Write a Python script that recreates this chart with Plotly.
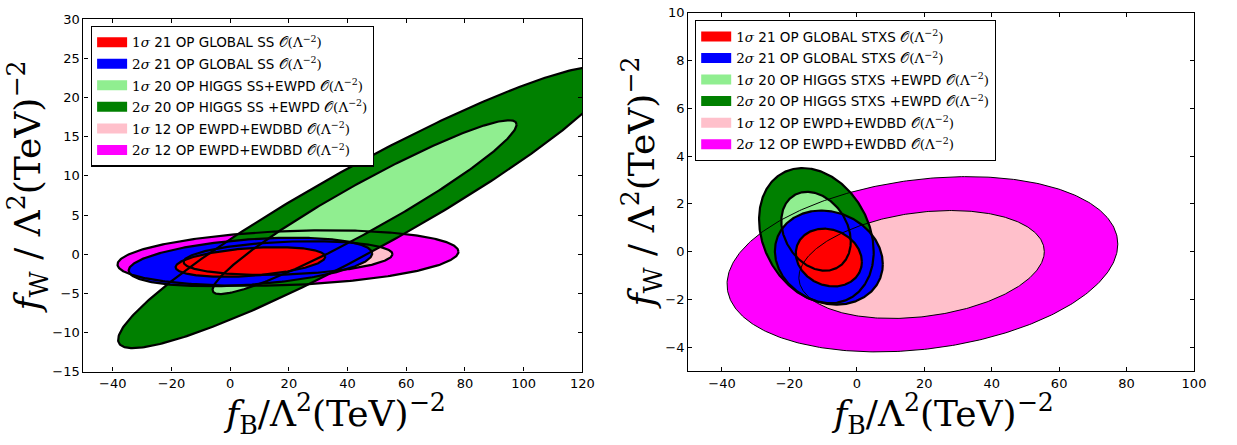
import numpy as np
import plotly.graph_objects as go

W, H = 1237, 445

# ---------------- data: left panel (signal strengths, SS) ----------------
ss_labels = [
    "1σ 21 OP GLOBAL SS",
    "2σ 21 OP GLOBAL SS",
    "1σ 20 OP HIGGS SS+EWPD",
    "2σ 20 OP HIGGS SS +EWPD",
    "1σ 12 OP EWPD+EWDBD",
    "2σ 12 OP EWPD+EWDBD",
]
ss_fB_center = [6.9, 6.9, 45.8, 46.0, 19.7, 19.7]
ss_fW_center = [-1.0, -1.0, 6.0, 6.0, -0.5, -0.5]
ss_fB_halfwidth = [25.5, 41.5, 51.8, 84.2, 35.6, 58.1]
ss_fW_halfwidth = [1.9, 3.1, 11.1, 18.0, 2.15, 3.55]
ss_corr = [0.35, 0.35, 0.95, 0.94, 0.23, 0.23]

# ---------------- data: right panel (STXS) ----------------
stxs_labels = [
    "1σ 21 OP GLOBAL STXS",
    "2σ 21 OP GLOBAL STXS",
    "1σ 20 OP HIGGS STXS +EWPD",
    "2σ 20 OP HIGGS STXS +EWPD",
    "1σ 12 OP EWPD+EWDBD",
    "2σ 12 OP EWPD+EWDBD",
]
stxs_fB_center = [-8.3, -8.3, -12.1, -12.0, 19.2, 19.45]
stxs_fW_center = [-0.25, -0.25, 0.85, 0.67, -0.54, -0.53]
stxs_fB_halfwidth = [9.8, 16.0, 10.3, 17.0, 36.4, 57.95]
stxs_fW_halfwidth = [1.21, 1.97, 1.65, 2.83, 2.26, 3.67]
stxs_corr = [-0.15, -0.14, -0.26, -0.24, 0.24, 0.23]

# ticks
left_xticks = [-40, -20, 0, 20, 40, 60, 80, 100, 120]
left_yticks = [-15, -10, -5, 0, 5, 10, 15, 20, 25, 30]
right_xticks = [-40, -20, 0, 20, 40, 60, 80, 100]
right_yticks = [-4, -2, 0, 2, 4, 6, 8, 10]

# styles
fill_colors = ["#ff0000", "#0000ff", "#90ee90", "#008000", "#ffc0cb", "#ff00ff"]
draw_order = [5, 4, 3, 2, 1, 0]


def ellipse(cx, cy, sx, sy, rho, n=400):
    t = np.linspace(0, 2 * np.pi, n)
    phi = np.arccos(rho)
    return cx + sx * np.cos(t), cy + sy * np.cos(t - phi)


def legend_text(label):
    sig, rest = label.split(" ", 1)
    return ("<span style=\"font-family:'DejaVu Serif'\">" + sig[0] + "<i>σ</i></span> "
            + rest + " <span style=\"font-family:'DejaVu Serif'\">𝒪(Λ<sup>−2</sup>)</span>")


fig = go.Figure()


def add_panel(labels, cxs, cys, sxs, sys_, rhos, xa, ya, legend_name, line_widths):
    curves = [ellipse(cxs[i], cys[i], sxs[i], sys_[i], rhos[i]) for i in range(len(labels))]
    # filled regions
    for i in draw_order:
        x, y = curves[i]
        fig.add_trace(go.Scatter(
            x=x, y=y, mode="lines", fill="toself", fillcolor=fill_colors[i],
            line=dict(width=0, color=fill_colors[i]), showlegend=False,
            xaxis=xa, yaxis=ya, hoverinfo="skip"))
    # black contour lines on top of all fills
    for i in draw_order:
        x, y = curves[i]
        fig.add_trace(go.Scatter(
            x=x, y=y, mode="lines", line=dict(width=line_widths[i], color="black"),
            showlegend=False, xaxis=xa, yaxis=ya, hoverinfo="skip"))
    # legend entries (rectangular colour swatches)
    for i in range(len(labels)):
        fig.add_trace(go.Scatter(
            x=[None], y=[None], mode="lines", line=dict(width=10, color=fill_colors[i]),
            name=legend_text(labels[i]), legendrank=i, legendgroup=legend_name + str(i),
            legend=legend_name, xaxis=xa, yaxis=ya, hoverinfo="skip"))


add_panel(ss_labels, ss_fB_center, ss_fW_center, ss_fB_halfwidth, ss_fW_halfwidth, ss_corr,
          "x", "y", "legend", [2.2] * 6)
add_panel(stxs_labels, stxs_fB_center, stxs_fW_center, stxs_fB_halfwidth, stxs_fW_halfwidth,
          stxs_corr, "x2", "y2", "legend2", [2.2, 2.2, 2.2, 2.2, 1.0, 1.0])

axis_common = dict(showgrid=False, zeroline=False, showline=True, linecolor="black", linewidth=1.3,
                   mirror="ticks", ticks="inside", ticklen=4, tickwidth=1, tickcolor="black",
                   tickfont=dict(family="DejaVu Sans", size=13, color="black"))

legend_common = dict(xanchor="left", yanchor="top", bgcolor="white", bordercolor="black",
                     borderwidth=1.3, traceorder="grouped", tracegroupgap=1,
                     font=dict(family="DejaVu Sans", size=13.5, color="black"))

fig.update_layout(
    width=W, height=H, margin=dict(l=0, r=0, t=0, b=0),
    paper_bgcolor="white", plot_bgcolor="white",
    xaxis=dict(domain=[84.3 / W, 588 / W], range=[-50, 120], tickvals=left_xticks, anchor="y", **axis_common),
    yaxis=dict(domain=[1 - 377.3 / H, 1 - 12.7 / H], range=[-15, 30], tickvals=left_yticks, anchor="x", **axis_common),
    xaxis2=dict(domain=[695 / W, 1205.7 / W], range=[-50, 100], tickvals=right_xticks, anchor="y2", **axis_common),
    yaxis2=dict(domain=[1 - 376.7 / H, 1 - 6 / H], range=[-5, 10], tickvals=right_yticks, anchor="x2", **axis_common),
    legend=dict(x=91.7 / W, y=1 - 19.3 / H, **legend_common),
    legend2=dict(x=701.7 / W, y=1 - 13.3 / H, **legend_common),
    showlegend=True,
)

title_font = dict(family="DejaVu Serif", size=36, color="black")
xtitle = "<i>f</i><sub>B</sub>/Λ<sup>2</sup>(TeV)<sup>−2</sup>"
ytitle = "<i>f</i><sub>W</sub> / Λ<sup>2</sup>(TeV)<sup>−2</sup>"
for xc, yc, txt, ang in [
    (338 / W, 1 - 421 / H, xtitle, 0),
    (952 / W, 1 - 421 / H, xtitle, 0),
    (28 / W, 1 - 186 / H, ytitle, -90),
    (648 / W, 1 - 182 / H, ytitle, -90),
]:
    fig.add_annotation(text=txt, xref="paper", yref="paper", x=xc, y=yc, xanchor="center",
                       yanchor="middle", textangle=ang, showarrow=False, font=title_font)

fig.write_html(
    "out.html",
    config={"displayModeBar": False},
    post_script=("document.body.style.margin='0px';"
                 "document.body.style.overflow='hidden';"
                 "document.documentElement.style.overflow='hidden';"),
)
